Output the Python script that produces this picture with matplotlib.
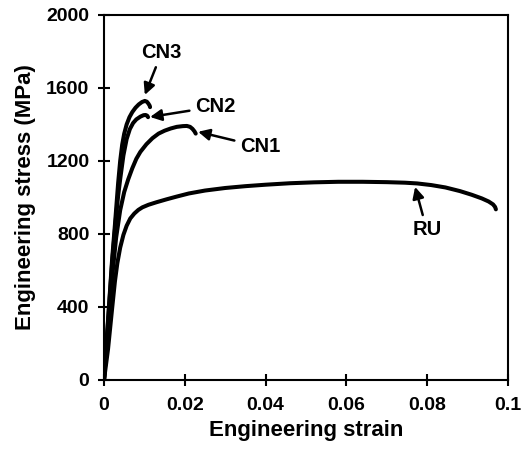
import matplotlib.pyplot as plt

plt.rcParams['font.family'] = ['Liberation Sans', 'DejaVu Sans']
plt.rcParams['font.weight'] = 'bold'

# strain / stress values
ru_strain = [0, 0.001, 0.002, 0.0027, 0.0033, 0.004, 0.0048, 0.0056, 0.0065, 0.0075,
             0.0085, 0.0095, 0.011, 0.013, 0.0155, 0.018, 0.021, 0.025, 0.03, 0.035,
             0.04, 0.046, 0.052, 0.058, 0.064, 0.07, 0.0745, 0.0775, 0.081, 0.0845,
             0.0881, 0.091, 0.0935, 0.0952, 0.0963, 0.0968, 0.097]
ru_stress = [0, 170, 390, 540, 640, 725, 795, 845, 885, 912,
             932, 946, 960, 974, 990, 1005, 1022, 1038, 1052, 1062,
             1070, 1078, 1083, 1086, 1086, 1084, 1081, 1077, 1068, 1055,
             1035, 1015, 995, 978, 962, 948, 935]

cn1_strain = [0, 0.001, 0.002, 0.003, 0.004, 0.005, 0.006, 0.007, 0.008, 0.009,
              0.0105, 0.012, 0.0135, 0.015, 0.0165, 0.018, 0.0195, 0.0205, 0.0213,
              0.0219, 0.0224, 0.0227]
cn1_stress = [0, 290, 560, 780, 930, 1030, 1100, 1160, 1212, 1250,
              1292, 1325, 1350, 1366, 1378, 1387, 1391, 1392, 1387,
              1376, 1362, 1350]

cn2_strain = [0, 0.001, 0.002, 0.003, 0.0035, 0.004, 0.0048, 0.0056, 0.0064, 0.0072,
              0.008, 0.009, 0.0098, 0.0103, 0.0107, 0.0109]
cn2_stress = [0, 320, 640, 900, 1010, 1100, 1230, 1320, 1375, 1408,
              1428, 1443, 1451, 1452, 1448, 1440]

cn3_strain = [0, 0.001, 0.002, 0.0027, 0.0035, 0.004, 0.0045, 0.005, 0.0056, 0.0063,
              0.007, 0.0078, 0.0086, 0.0094, 0.0101, 0.0106, 0.011, 0.0113, 0.0114]
cn3_stress = [0, 330, 660, 850, 1080, 1200, 1290, 1350, 1400, 1440,
              1468, 1492, 1510, 1523, 1529, 1525, 1514, 1503, 1495]

fig = plt.figure(figsize=(5.24, 4.5), dpi=100)
ax = fig.add_axes([0.1985, 0.1556, 0.771, 0.8111])

for xs, ys in [(ru_strain, ru_stress), (cn1_strain, cn1_stress),
               (cn2_strain, cn2_stress), (cn3_strain, cn3_stress)]:
    ax.plot(xs, ys, color='black', lw=2.9, solid_capstyle='round', solid_joinstyle='round')

arrow = dict(arrowstyle='-|>', color='black', lw=1.8, mutation_scale=17,
             shrinkA=2, shrinkB=0)
ax.annotate('CN3', xy=(0.0101, 1562), xytext=(0.0143, 1795), fontsize=14.5,
            fontweight='bold', ha='center', va='center', arrowprops=arrow)
ax.annotate('CN2', xy=(0.0114, 1441), xytext=(0.0275, 1498), fontsize=14.5,
            fontweight='bold', ha='center', va='center', arrowprops=arrow)
ax.annotate('CN1', xy=(0.0233, 1360), xytext=(0.0386, 1278), fontsize=14.5,
            fontweight='bold', ha='center', va='center', arrowprops=arrow)
ax.annotate('RU', xy=(0.0770, 1058), xytext=(0.0799, 822), fontsize=14.5,
            fontweight='bold', ha='center', va='center', arrowprops=arrow)

ax.set_xlim(0, 0.1)
ax.set_ylim(0, 2000)
ax.set_xticks([0, 0.02, 0.04, 0.06, 0.08, 0.1])
ax.set_xticklabels(['0', '0.02', '0.04', '0.06', '0.08', '0.1'])
ax.set_yticks([0, 400, 800, 1200, 1600, 2000])
ax.tick_params(direction='inout', length=9, width=1.5, labelsize=14)
ax.tick_params(axis='x', pad=8)
ax.tick_params(axis='y', pad=6)
for s in ax.spines.values():
    s.set_linewidth(1.5)

ax.set_xlabel('Engineering strain', fontsize=16, fontweight='bold', labelpad=4)
ax.set_ylabel('Engineering stress (MPa)', fontsize=16, fontweight='bold', labelpad=7)

fig.savefig('out.png', dpi=100)
